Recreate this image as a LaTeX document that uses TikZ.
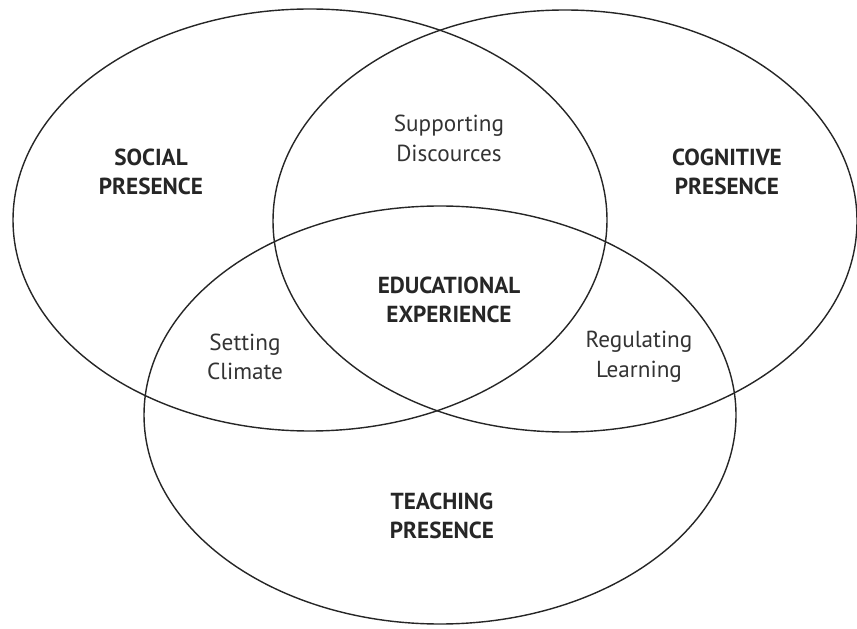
\documentclass[tikz,border=0pt]{standalone}
\usepackage{fontspec}
\setmainfont{PT Sans}
\begin{document}
\begin{tikzpicture}[
		presence/.style={align=center,font=\bfseries\fontsize{16.5}{20.8}\selectfont,text=black!85},
		overlap/.style={align=center,font=\fontsize{16.5}{20.8}\selectfont,text=black!80}
	]
		\useasboundingbox (0,0) rectangle (21.425,15.7);

		\draw[line width=1pt,black!85] (7.75,10.2) ellipse (7.425 and 5.275);

		\draw[line width=1pt,black!85] (14.125,10.175) ellipse (7.3 and 5.275);

		\draw[line width=1pt,black!85] (11.0,5.325) ellipse (7.4 and 5.225);

		\node[presence] (social) at (3.775,11.4) {SOCIAL\\PRESENCE};
		\node[presence] (cognitive) at (18.175,11.4) {COGNITIVE\\PRESENCE};
		\node[presence] (teaching) at (11.05,2.81) {TEACHING\\PRESENCE};

		\node[overlap] (support) at (11.225,12.24) {Supporting\\Discources};
		\node[overlap] (climate) at (6.125,6.78) {Setting\\Climate};
		\node[overlap] (regulate) at (15.975,6.78) {Regulating\\Learning};

		\node[presence] (experience) at (11.225,8.2) {EDUCATIONAL\\EXPERIENCE};
	\end{tikzpicture}
\end{document}
